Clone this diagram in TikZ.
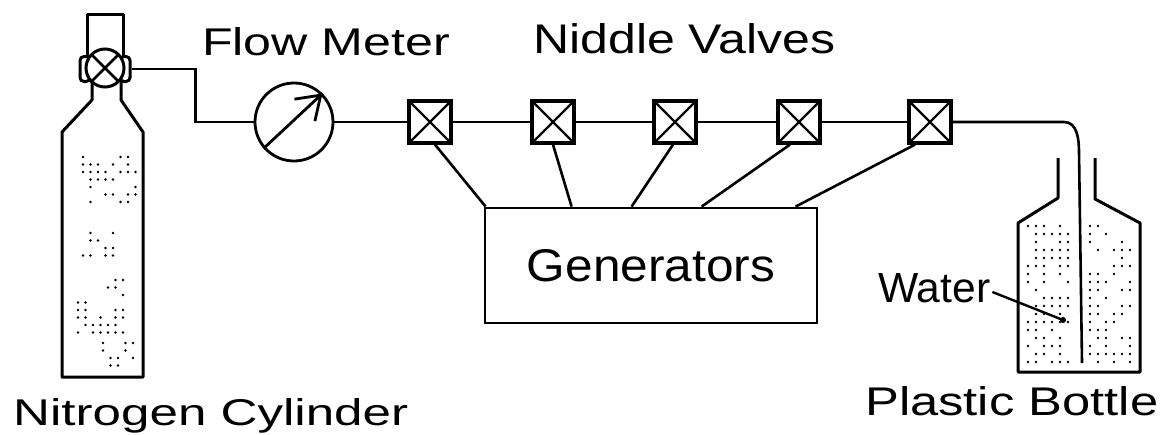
\documentclass[tikz,border=0pt]{standalone}
\usepackage{fontspec}
\setmainfont{Liberation Sans}
\usepackage{graphicx}
\usetikzlibrary{arrows.meta,calc}
% label text stretched to a given width and height
\newcommand\lbl[3]{\resizebox{#1}{#2}{#3}}

\begin{document}
\begin{tikzpicture}[x=1pt,y=-1pt,
  pipe/.style={line width=2.6pt},
  outline/.style={line width=3pt, line join=round},
  valvebox/.style={draw, line width=3.2pt, minimum size=42pt, inner sep=0pt,
    path picture={\draw[line width=2.4pt]
      (path picture bounding box.south west) -- (path picture bounding box.north east)
      (path picture bounding box.north west) -- (path picture bounding box.south east);}},
  flange/.style={draw, line width=3pt, fill=white, rounded corners=4pt,
    minimum width=10pt, minimum height=25pt, inner sep=0pt},
  txt/.style={inner sep=0pt, anchor=base west}
]
\useasboundingbox (0,0) rectangle (1161,434);

% ---- nitrogen cylinder ----
\draw[outline] (87,60) -- (87,14) -- (123,14) -- (123,60);
\draw[outline] (92,80) -- (92,100) -- (62,132) -- (62,377) -- (143,377)
  -- (143,132) -- (121,100) -- (121,80);
\node[flange] (fl) at (85,69) {};
\node[flange] (fr) at (125,69) {};
\node[draw, circle, line width=3pt, fill=white, minimum size=38pt, inner sep=0pt,
  path picture={\draw[line width=2.6pt]
    (path picture bounding box.south west) -- (path picture bounding box.north east)
    (path picture bounding box.north west) -- (path picture bounding box.south east);}]
  (cv) at (105,68) {};

% stippled marks on the cylinder
\pgfmathsetseed{11}
\foreach \x/\y/\nc/\nr in {83/157/8/7, 83/233/5/4, 78/280/7/8, 103/343/5/4}{
  \pgfmathtruncatemacro{\mc}{\nc-1}
  \pgfmathtruncatemacro{\mr}{\nr-1}
  \foreach \i in {0,...,\mc}{
    \foreach \j in {0,...,\mr}{
      \pgfmathrandominteger{\r}{0}{99}
      \ifnum\r<50 \fill (\x+7.5*\i, \y+7.5*\j) circle (1.4pt); \fi
    }
  }
}

% ---- flow meter ----
\node[draw, circle, line width=2.8pt, minimum size=78pt, inner sep=0pt] (fm) at (294,122) {};
\draw[line width=2.8pt, -{Straight Barb[length=22pt,width=30pt]}] (fm.221) -- (fm.45);
\draw[pipe] (fr.east) -| ($(fm.west)+(-58,0)$) -- (fm.west);

% ---- needle valves ----
\foreach \n/\x in {1/430,2/553,3/675,4/799,5/930}
  \node[valvebox] (v\n) at (\x,122) {};
\draw[pipe] (fm.east) -- (v1.west) (v1.east) -- (v2.west) (v2.east) -- (v3.west)
  (v3.east) -- (v4.west) (v4.east) -- (v5.west);

% ---- generators ----
\node[draw, line width=2.8pt, minimum width=332pt, minimum height=115pt, inner sep=0pt]
  (gen) at (651,265.5) {\lbl{248pt}{32pt}{Generators}};
\draw[pipe] ($(v1.south)+(5,0)$) -- ($(gen.north west)+(2,0)$);
\draw[pipe] (v2.south) -- ($(gen.north west)+(88,0)$);
\draw[pipe] ($(v3.south)+(-2,0)$) -- ($(gen.north west)+(148,0)$);
\draw[pipe] ($(v4.south)+(-9,0)$) -- ($(gen.north west)+(218,0)$);
\draw[pipe] ($(v5.south)+(-15,0)$) -- ($(gen.north west)+(312,0)$);

% ---- plastic bottle ----
\draw[outline] (1058,158) -- (1058,198) -- (1018,223) -- (1018,372) -- (1140,372)
  -- (1140,223) -- (1095,199) -- (1095,158);
\coordinate (tubebend) at (1064,122);
\coordinate (tubeend) at (1082,363);
\draw[pipe] (v5.east) -- (tubebend) to[out=0,in=90] (1079,152) -- (tubeend);

% water stipple
\pgfmathsetseed{5}
\foreach \x in {1028,1090}{
  \foreach \i in {0,...,5}{
    \foreach \j in {0,...,17}{
      \pgfmathrandominteger{\r}{0}{99}
      \ifnum\r<55 \fill (\x+8*\i, 226+8*\j) circle (1.4pt); \fi
    }
  }
}

% ---- labels ----
\node[txt] (fmlbl) at (202,55) {\lbl{248pt}{28pt}{Flow Meter}};
\node[txt] (nvlbl) at (533,53) {\lbl{302pt}{30pt}{Niddle Valves}};
\node[txt] (nclbl) at (13,425) {\lbl{395pt}{27pt}{Nitrogen Cylinder}};
\node[txt] (pblbl) at (865,415) {\lbl{293pt}{29pt}{Plastic Bottle}};
\node[txt] (water) at (878,302) {\lbl{112pt}{29pt}{Water}};
\coordinate (wdot) at (1063,320);
\draw[line width=2.4pt] ($(water.base east)+(2,-10)$) -- (wdot);
\fill (wdot) circle (3pt);
\end{tikzpicture}
\end{document}
